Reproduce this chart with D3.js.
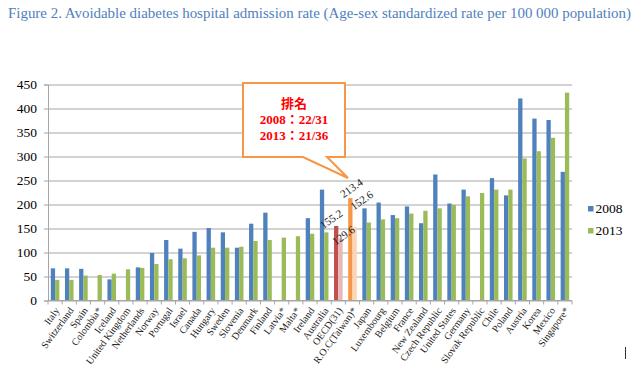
<!DOCTYPE html>
<html>
<head>
<meta charset="utf-8">
<script src="https://cdn.jsdelivr.net/npm/d3@7"></script>
<style>
  body { margin: 0; background: #fff; }
  svg { display: block; }
</style>
</head>
<body>
<div id="chart"></div>
<script>
const categories = ['Italy', 'Switzerland', 'Spain', 'Colombia*', 'Iceland', 'United Kingdom', 'Netherlands',
  'Norway', 'Portugal', 'Israel', 'Canada', 'Hungary', 'Sweden', 'Slovenia', 'Denmark', 'Finland', 'Latvia*',
  'Malta*', 'Ireland', 'Australia', 'OECD(31)', 'R.O.C(Taiwan)*', 'Japan', 'Luxembourg', 'Belgium', 'France',
  'New Zealand', 'Czech Republic', 'United States', 'Germany', 'Slovak Republic', 'Chile', 'Poland', 'Austria',
  'Korea', 'Mexico', 'Singapore*'];
const years = ['2008', '2013'];
const values2008 = [67, 67, 66, null, 44, null, 69, 99, 126, 108, 143, 151, 142, 110, 160, 183, null, null, 171.5,
  231, 155.2, 213.4, 192, 204, 178, 196, 161, 262.5, 202, 231, null, 255, 219, 421, 379, 376, 268];
const values2013 = [43, 43, 52, 53, 56, 65, 68, 76, 86, 88, 94, 110, 110, 112, 124, 126, 131, 134, 139, 142,
  129.6, 152.6, 162.5, 169, 171.5, 181, 187, 192, 199, 217, 224, 231, 231, 296, 311, 339, 433];
const yTicks = [0, 50, 100, 150, 200, 250, 300, 350, 400, 450];
const labelled = ['OECD(31)', 'R.O.C(Taiwan)*'];
const title = 'Figure 2. Avoidable diabetes hospital admission rate (Age-sex standardized rate per 100 000 population)';
const calloutLines = ['排名', '2008：22/31', '2013：21/36'];

const colors = { '2008': '#4f81bd', '2013': '#9bbb59' };
const highlight = {
  'OECD(31)': { '2008': '#c0504d', '2013': '#e6b9b8' },
  'R.O.C(Taiwan)*': { '2008': '#f79646', '2013': '#fcd5b5' }
};
// nudges for the rotated value labels (Excel placed them by hand)
const labelNudge = {
  'OECD(31)': { '2008': [-5, -7], '2013': [3, -3] },
  'R.O.C(Taiwan)*': { '2008': [1, -10], '2013': [7, -27] }
};

const W = 640, H = 366;
const plotLeft = 48, plotRight = 572, plotTop = 84.5, plotBottom = 300.5;
const serif = '"Liberation Serif", "Times New Roman", serif';

const svg = d3.select('#chart').append('svg')
  .attr('width', W)
  .attr('height', H);

svg.append('text')
  .attr('x', 8)
  .attr('y', 18)
  .style('font-family', serif)
  .attr('font-size', 15)
  .attr('fill', '#4f81bd')
  .attr('textLength', 623)
  .attr('lengthAdjust', 'spacingAndGlyphs')
  .text(title);

const x = d3.scaleBand().domain(categories).range([plotLeft, plotRight]);
const x1 = d3.scaleBand().domain(years).range([0, x.bandwidth()]).paddingOuter(0.65);
const y = d3.scaleLinear().domain([0, 450]).range([plotBottom, plotTop]);

// gridlines
svg.append('g')
  .attr('transform', `translate(${plotLeft},0)`)
  .call(d3.axisLeft(y).tickValues(yTicks).tickSize(-(plotRight - plotLeft)).tickFormat(''))
  .call(g => g.select('.domain').remove())
  .call(g => g.selectAll('line').attr('stroke', '#a6a6a6'));

// y axis
svg.append('g')
  .attr('transform', `translate(${plotLeft},0)`)
  .call(d3.axisLeft(y).tickValues(yTicks).tickSize(4).tickPadding(7))
  .call(g => g.select('.domain').attr('stroke', '#a6a6a6'))
  .call(g => g.selectAll('line').attr('stroke', '#a6a6a6'))
  .call(g => g.selectAll('text')
    .style('font-family', serif)
    .attr('font-size', 13.5)
    .attr('fill', '#000'));

// bars
const rows = categories.map((name, i) => ({ name, vals: [values2008[i], values2013[i]] }));
const groups = svg.append('g').selectAll('g')
  .data(rows)
  .join('g')
  .attr('transform', d => `translate(${x(d.name)},0)`);

groups.selectAll('rect')
  .data(d => years.map((yr, k) => ({ name: d.name, year: yr, value: d.vals[k] })).filter(e => e.value != null))
  .join('rect')
  .attr('x', d => x1(d.year))
  .attr('width', x1.bandwidth())
  .attr('y', d => y(d.value))
  .attr('height', d => y(0) - y(d.value))
  .attr('fill', d => highlight[d.name] ? highlight[d.name][d.year] : colors[d.year]);

// x axis line and ticks between categories
svg.append('line')
  .attr('x1', plotLeft).attr('x2', plotRight)
  .attr('y1', plotBottom).attr('y2', plotBottom)
  .attr('stroke', '#a6a6a6');
svg.append('g').selectAll('line')
  .data(d3.range(categories.length + 1))
  .join('line')
  .attr('x1', i => plotLeft + i * x.step())
  .attr('x2', i => plotLeft + i * x.step())
  .attr('y1', plotBottom)
  .attr('y2', plotBottom + 4)
  .attr('stroke', '#a6a6a6');

// category labels
svg.append('g').selectAll('text')
  .data(categories)
  .join('text')
  .attr('transform', d => `translate(${x(d) + x.bandwidth() / 2 + 2},${plotBottom + 8}) rotate(-54)`)
  .attr('text-anchor', 'end')
  .attr('dy', '0.35em')
  .style('font-family', serif)
  .attr('font-size', 10)
  .attr('fill', '#222')
  .text(d => d);

// value labels on OECD and Taiwan
const labels = [];
labelled.forEach(name => {
  const i = categories.indexOf(name);
  years.forEach((yr, k) => {
    const v = k === 0 ? values2008[i] : values2013[i];
    labels.push({ name, year: yr, value: v });
  });
});
svg.append('g').selectAll('text')
  .data(labels)
  .join('text')
  .attr('transform', d => {
    const cx = x(d.name) + x1(d.year) + x1.bandwidth() / 2 + labelNudge[d.name][d.year][0];
    const cy = y(d.value) + labelNudge[d.name][d.year][1];
    return `translate(${cx},${cy}) rotate(-35)`;
  })
  .attr('text-anchor', 'middle')
  .attr('dy', '0.35em')
  .style('font-family', serif)
  .attr('font-size', 11)
  .attr('fill', '#222')
  .text(d => d.value.toFixed(1));

// callout
svg.append('path')
  .attr('d', 'M243,83 H345 V157 H327 L348,178 L303,157 H243 Z')
  .attr('fill', '#fff')
  .attr('stroke', '#f79646')
  .attr('stroke-width', 2);
svg.append('g').selectAll('text')
  .data(calloutLines)
  .join('text')
  .attr('x', 294)
  .attr('y', (d, i) => 108 + i * 16)
  .attr('text-anchor', 'middle')
  .style('font-family', serif + ', "Noto Sans CJK TC"')
  .attr('font-size', 13)
  .attr('font-weight', 'bold')
  .attr('fill', '#ff0000')
  .text(d => d);

// legend
const legend = svg.append('g').selectAll('g')
  .data(years)
  .join('g')
  .attr('transform', (d, i) => `translate(588,${206 + i * 22})`);
legend.append('rect')
  .attr('width', 5.5)
  .attr('height', 5.5)
  .attr('fill', d => colors[d]);
legend.append('text')
  .attr('x', 7.5)
  .attr('y', 7)
  .style('font-family', serif)
  .attr('font-size', 13.5)
  .attr('fill', '#000')
  .text(d => d);

// stray mark at the bottom right of the original
svg.append('line')
  .attr('x1', 625.5).attr('x2', 625.5)
  .attr('y1', 347).attr('y2', 359)
  .attr('stroke', '#333');
</script>
</body>
</html>
